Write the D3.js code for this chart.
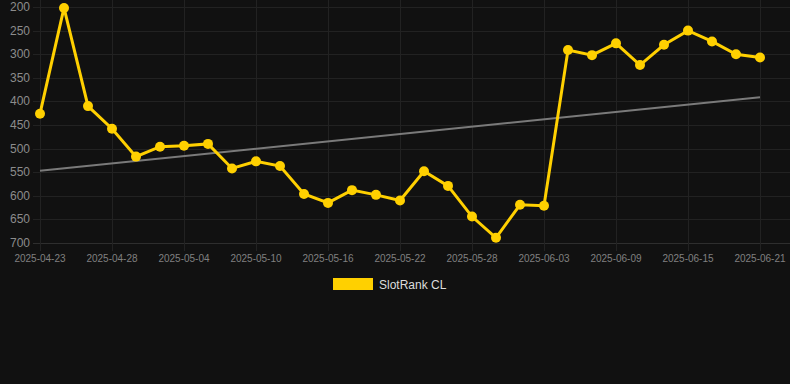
<!DOCTYPE html>
<html>
<head>
<meta charset="utf-8">
<script src="https://cdn.jsdelivr.net/npm/d3@7"></script>
<style>
  html, body { margin: 0; padding: 0; background: #111111; }
  body { width: 790px; height: 384px; overflow: hidden; font-family: "Liberation Sans", Arial, sans-serif; }
</style>
</head>
<body>
<script>
// dates for every point (labels shown every 3rd one)
var dates = ["2025-04-23", "2025-04-25", "2025-04-26", "2025-04-28", "2025-04-30", "2025-05-02",
  "2025-05-04", "2025-05-06", "2025-05-08", "2025-05-10", "2025-05-12", "2025-05-14",
  "2025-05-16", "2025-05-18", "2025-05-20", "2025-05-22", "2025-05-24", "2025-05-26",
  "2025-05-28", "2025-05-30", "2025-06-01", "2025-06-03", "2025-06-05", "2025-06-07",
  "2025-06-09", "2025-06-11", "2025-06-13", "2025-06-15", "2025-06-17", "2025-06-19",
  "2025-06-21"];
var ranks = [426, 202, 410, 458, 517, 496, 494, 490, 542, 527, 537, 596, 615, 588, 598, 610,
  548, 579, 644, 689, 619, 621, 291, 302, 277, 323, 280, 250, 273, 300, 307];
var trend = [547, 391]; // trend at first and last date
var yTicks = [200, 250, 300, 350, 400, 450, 500, 550, 600, 650, 700];
var seriesName = "SlotRank CL";

var width = 790, height = 384;
var plotLeft = 40, plotRight = 760, plotTop = 7, plotBottom = 243;

var svg = d3.select("body").append("svg")
    .attr("width", width)
    .attr("height", height);

var x = d3.scalePoint()
    .domain(dates)
    .range([plotLeft, plotRight]);

var y = d3.scaleLinear()
    .domain([200, 700])
    .range([plotTop, plotBottom]);

var labelDates = dates.filter(function(d, i) { return i % 3 == 0; });

// grid
svg.append("g")
    .selectAll("line")
    .data(yTicks)
  .enter().append("line")
    .attr("x1", plotLeft - 7)
    .attr("x2", width)
    .attr("y1", function(d) { return Math.round(y(d)) + 0.5; })
    .attr("y2", function(d) { return Math.round(y(d)) + 0.5; })
    .style("stroke", function(d) { return d == 700 ? "#2e2e2e" : "#222222"; })
    .style("stroke-width", 1);

svg.append("g")
    .selectAll("line")
    .data(labelDates)
  .enter().append("line")
    .attr("x1", function(d) { return Math.round(x(d)) + 0.5; })
    .attr("x2", function(d) { return Math.round(x(d)) + 0.5; })
    .attr("y1", 0)
    .attr("y2", plotBottom + 8)
    .style("stroke", "#222222")
    .style("stroke-width", 1);

// axis labels
svg.append("g")
    .selectAll("text")
    .data(yTicks)
  .enter().append("text")
    .attr("x", 30)
    .attr("y", function(d) { return y(d) + 4; })
    .attr("text-anchor", "end")
    .style("font-size", "12px")
    .style("fill", "#8c8c8c")
    .text(function(d) { return d; });

svg.append("g")
    .selectAll("text")
    .data(labelDates)
  .enter().append("text")
    .attr("x", function(d) { return x(d); })
    .attr("y", plotBottom + 19)
    .attr("text-anchor", "middle")
    .style("font-size", "10px")
    .style("fill", "#808080")
    .text(function(d) { return d; });

// trend line
svg.append("line")
    .attr("x1", x(dates[0]))
    .attr("x2", x(dates[dates.length - 1]))
    .attr("y1", y(trend[0]))
    .attr("y2", y(trend[1]))
    .style("stroke", "#7a7a7a")
    .style("stroke-width", 2);

// series line
var line = d3.line()
    .x(function(d, i) { return x(dates[i]); })
    .y(function(d) { return y(d); });

svg.append("path")
    .datum(ranks)
    .attr("d", line)
    .style("fill", "none")
    .style("stroke", "#ffd000")
    .style("stroke-width", 3);

svg.selectAll(".dot")
    .data(ranks)
  .enter().append("circle")
    .attr("class", "dot")
    .attr("r", 5)
    .attr("cx", function(d, i) { return x(dates[i]); })
    .attr("cy", function(d) { return y(d); })
    .style("fill", "#ffd000");

// legend
svg.append("rect")
    .attr("x", 333)
    .attr("y", 278)
    .attr("width", 40)
    .attr("height", 12)
    .style("fill", "#ffd000");

svg.append("text")
    .attr("x", 379)
    .attr("y", 289)
    .style("font-size", "12px")
    .style("fill", "#dddddd")
    .text(seriesName);
</script>
</body>
</html>
